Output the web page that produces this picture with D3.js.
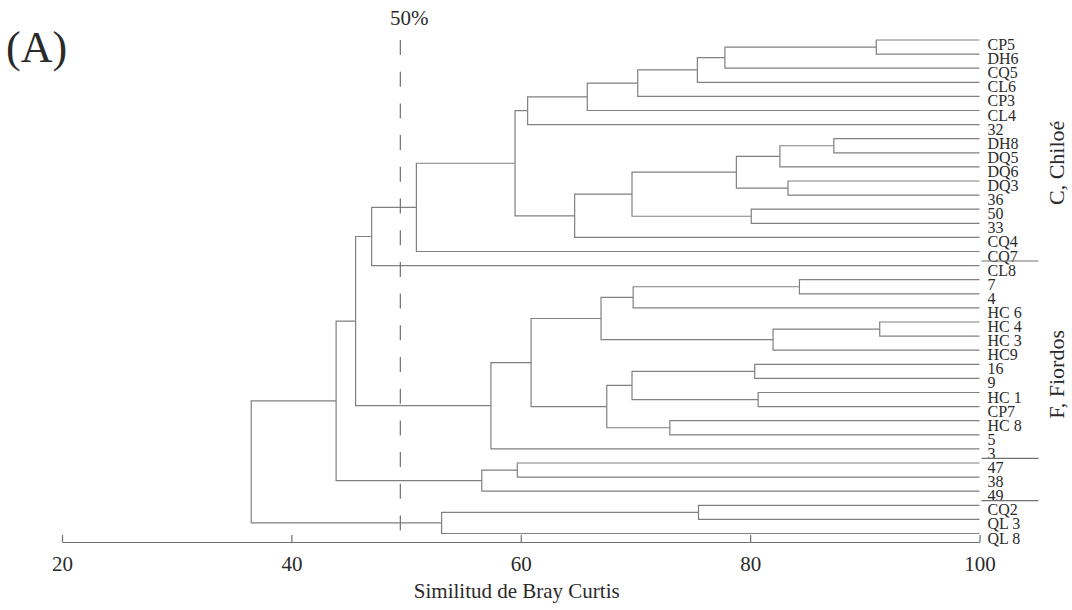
<!DOCTYPE html>
<html>
<head>
<meta charset="utf-8">
<title>Dendrograma Bray Curtis</title>
<script src="https://d3js.org/d3.v7.min.js"></script>
<style>
	body {
		margin: 0;
		background: #fff;
		font-family: "Liberation Serif", "Times New Roman", serif;
	}

	.branch {
		fill: none;
		stroke: #808080;
		stroke-width: 1.2px;
	}

	text {
		fill: #2a2a2a;
	}
</style>
</head>
<body>
<script>
	var width = 1072,
			height = 610;

	// leaves, top to bottom
	var leaves = ["CP5", "DH6", "CQ5", "CL6", "CP3", "CL4", "32", "DH8", "DQ5", "DQ6",
		"DQ3", "36", "50", "33", "CQ4", "CQ7", "CL8", "7", "4", "HC 6", "HC 4", "HC 3",
		"HC9", "16", "9", "HC 1", "CP7", "HC 8", "5", "3", "47", "38", "49", "CQ2",
		"QL 3", "QL 8"];

	// [id, left child, right child, similarity %]
	var merges = [
		["c1", "CP5", "DH6", 91.0],
		["c2", "c1", "CQ5", 77.8],
		["c3", "c2", "CL6", 75.4],
		["c4", "c3", "CP3", 70.2],
		["c5", "c4", "CL4", 65.8],
		["c6", "c5", "32", 60.6],
		["c7", "DH8", "DQ5", 87.3],
		["c8", "c7", "DQ6", 82.6],
		["c9", "DQ3", "36", 83.3],
		["c10", "c8", "c9", 78.8],
		["c11", "50", "33", 80.1],
		["c12", "c10", "c11", 69.7],
		["c13", "c12", "CQ4", 64.7],
		["c14", "c6", "c13", 59.5],
		["c15", "c14", "CQ7", 50.9],
		["c16", "c15", "CL8", 47.0],
		["f1", "7", "4", 84.3],
		["f2", "f1", "HC 6", 69.8],
		["f3", "HC 4", "HC 3", 91.3],
		["f4", "f3", "HC9", 82.0],
		["f5", "f2", "f4", 67.0],
		["f6", "16", "9", 80.4],
		["f7", "HC 1", "CP7", 80.7],
		["f8", "f6", "f7", 69.7],
		["f9", "HC 8", "5", 73.0],
		["f10", "f8", "f9", 67.5],
		["f11", "f5", "f10", 60.9],
		["f12", "f11", "3", 57.4],
		["g1", "47", "38", 59.7],
		["g2", "g1", "49", 56.6],
		["q1", "CQ2", "QL 3", 75.5],
		["q2", "q1", "QL 8", 53.1],
		["r1", "c16", "f12", 45.6],
		["r2", "r1", "g2", 43.9],
		["r3", "r2", "q2", 36.5]
	];

	var xTicks = [20, 40, 60, 80, 100];
	var cutLevel = 49.5;
	var cutLabel = "50%";
	var groupBreaks = ["CQ7", "3", "49"];
	var groupLabels = [
		{ name: "C, Chiloé", between: ["DQ5", "DQ6"] },
		{ name: "F, Fiordos", between: ["16", "9"] }
	];

	var x = d3.scaleLinear().domain([20, 100]).range([62, 979.5]);
	var y = d3.scalePoint().domain(leaves).range([40, 533.5]);

	var svg = d3.select("body").append("svg")
			.attr("width", width)
			.attr("height", height);

	// node positions: leaves at 100, merges at their level, y = mid of children
	var pos = {};
	leaves.forEach(function(l) { pos[l] = { x: x(100), y: y(l) }; });
	merges.forEach(function(m) {
		pos[m[0]] = { x: x(m[3]), y: (pos[m[1]].y + pos[m[2]].y) / 2 };
	});

	var branches = svg.append("g").attr("class", "branches");

	merges.forEach(function(m) {
		var p = pos[m[0]], a = pos[m[1]], b = pos[m[2]];
		branches.append("path")
				.attr("class", "branch")
				.attr("d", "M" + a.x + "," + a.y + "H" + p.x + "V" + b.y + "H" + b.x);
	});

	// leaf labels
	svg.append("g").selectAll("text")
			.data(leaves)
		.enter().append("text")
			.attr("x", x(100) + 8)
			.attr("y", function(d) { return y(d) + 10; })
			.style("font-size", "16px")
			.text(function(d) { return d; });

	// group separators
	svg.append("g").selectAll("line")
			.data(groupBreaks)
		.enter().append("line")
			.attr("x1", x(100) + 2)
			.attr("x2", x(100) + 59)
			.attr("y1", function(d) { return y(d) + 9.5; })
			.attr("y2", function(d) { return y(d) + 9.5; })
			.attr("stroke", "#707070")
			.attr("stroke-width", 1.2);

	svg.append("g").selectAll("text")
			.data(groupLabels)
		.enter().append("text")
			.attr("transform", function(d) {
				var cy = (y(d.between[0]) + y(d.between[1])) / 2 + 3;
				return "translate(1064," + cy + ") rotate(-90)";
			})
			.attr("text-anchor", "middle")
			.style("font-size", "22px")
			.text(function(d) { return d.name; });

	// x axis
	var axisY = 542;
	var axis = svg.append("g")
			.attr("transform", "translate(0," + axisY + ")")
			.call(d3.axisBottom(x).tickValues(xTicks).tickSizeInner(-7).tickSizeOuter(0).tickPadding(0));

	axis.select(".domain").attr("stroke", "#707070").attr("stroke-width", 1.2);
	axis.selectAll(".tick line").attr("stroke", "#707070").attr("stroke-width", 1.2);
	axis.selectAll(".tick text")
			.attr("y", 29)
			.attr("dy", null)
			.attr("fill", "#2a2a2a")
			.style("font-family", "'Liberation Serif', 'Times New Roman', serif")
			.style("font-size", "21px");

	svg.append("text")
			.attr("x", (x(20) + x(100)) / 2 - 4)
			.attr("y", 598)
			.attr("text-anchor", "middle")
			.style("font-size", "21px")
			.text("Similitud de Bray Curtis");

	// cut level
	svg.append("line")
			.attr("x1", x(cutLevel))
			.attr("x2", x(cutLevel))
			.attr("y1", 40)
			.attr("y2", axisY)
			.attr("stroke", "#707070")
			.attr("stroke-width", 1.2)
			.attr("stroke-dasharray", "15,16.7");

	svg.append("text")
			.attr("x", x(cutLevel) + 9)
			.attr("y", 25)
			.attr("text-anchor", "middle")
			.style("font-size", "21px")
			.text(cutLabel);

	svg.append("text")
			.attr("x", 6)
			.attr("y", 62)
			.style("font-size", "44px")
			.text("(A)");
</script>
</body>
</html>
